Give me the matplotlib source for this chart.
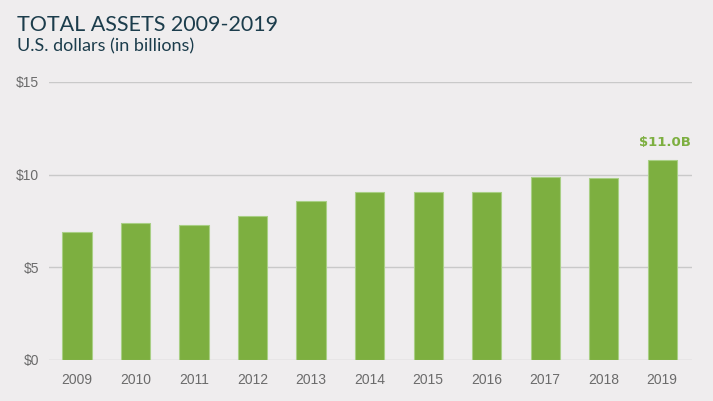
import matplotlib.pyplot as plt

years = ["2009", "2010", "2011", "2012", "2013", "2014", "2015", "2016", "2017", "2018", "2019"]
assets = [6.9, 7.4, 7.3, 7.75, 8.6, 9.05, 9.05, 9.05, 9.9, 9.8, 10.8]
yticks = [0, 5, 10, 15]
ytick_labels = ["$0", "$5", "$10", "$15"]
last_label = "$11.0B"

bg = "#efedee"
green = "#7daf40"

fig = plt.figure(figsize=(7.13, 4.01), dpi=100, facecolor=bg)
ax = fig.add_axes([49 / 713, 1 - 360 / 401, (692 - 49) / 713, (360 - 82) / 401], facecolor=bg)

x = range(len(years))
ax.bar(x, assets, width=0.5, color=green, edgecolor="#a9cf85", linewidth=0.8, zorder=3)
ax.set_xlim(-0.48, len(years) - 0.49)
ax.set_ylim(0, 15)
ax.set_yticks(yticks)
ax.set_yticklabels(ytick_labels, family="Liberation Sans")
ax.set_xticks(list(x))
ax.set_xticklabels(years, family="Liberation Sans")
ax.yaxis.grid(True, color="#c9c9c9", linewidth=1, zorder=0)
for s in ax.spines.values():
    s.set_visible(False)
ax.tick_params(axis="both", length=0, labelsize=10, labelcolor="#6b6b6b")
ax.tick_params(axis="y", pad=7)
ax.tick_params(axis="x", pad=9)

ax.text(len(years) - 1 + 0.05, assets[-1] + 0.6, last_label, ha="center", va="bottom",
        color=green, fontsize=9.5, fontweight="bold")

fig.text(17 / 713, 1 - 31 / 401, "TOTAL ASSETS 2009-2019", fontsize=15.5, color="#1c3d4c",
         family="Lato", va="baseline")
fig.text(17 / 713, 1 - 51 / 401, "U.S. dollars (in billions)", fontsize=13, color="#1c3d4c",
         family="Lato", va="baseline")

fig.savefig("out.png", dpi=100, facecolor=bg)
